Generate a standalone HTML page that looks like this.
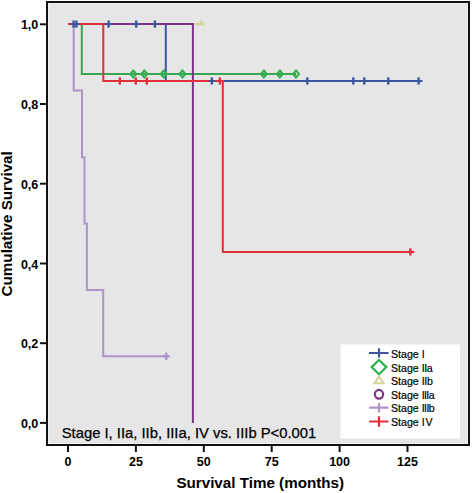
<!DOCTYPE html>
<html><head><meta charset="utf-8"><style>
html,body{margin:0;padding:0;background:#fff;}
body{width:472px;height:493px;overflow:hidden;}
svg{display:block;}
text{font-family:"Liberation Sans",sans-serif;fill:#000;}
.tl{font-size:12.5px;font-weight:bold;}
.ax{font-size:15.2px;font-weight:bold;}
.an{font-size:14.8px;stroke:#000;stroke-width:0.25px;}
.lg{font-size:10.6px;stroke:#000;stroke-width:0.2px;}
</style></head><body>
<svg width="472" height="493" viewBox="0 0 472 493">
<rect x="0" y="0" width="472" height="493" fill="#fff"/>
<rect x="47" y="2" width="422" height="443" fill="#e6e6e6" stroke="#111" stroke-width="2"/>
<rect x="48.5" y="3.5" width="419" height="440" fill="none" stroke="#f1f1f1" stroke-width="1"/>
<path d="M68.0 24.1 L201.0 24.1" fill="none" stroke="#d6d49a" stroke-width="2.0" stroke-linejoin="miter" stroke-linecap="butt"/>
<path d="M68.0 24.1 L73.7 24.1 L73.7 90.5 L82.0 90.5 L82.0 157.2 L84.5 157.2 L84.5 223.5 L86.9 223.5 L86.9 290.0 L103.2 290.0 L103.2 356.3 L169.5 356.3" fill="none" stroke="#ad93ca" stroke-width="2.0" stroke-linejoin="miter" stroke-linecap="butt"/>
<path d="M68.0 24.1 L81.8 24.1 L81.8 74.0 L296.0 74.0" fill="none" stroke="#3aa452" stroke-width="2.0" stroke-linejoin="miter" stroke-linecap="butt"/>
<path d="M68.0 24.1 L165.8 24.1 L165.8 81.0 L422.5 81.0" fill="none" stroke="#3d56a0" stroke-width="2.0" stroke-linejoin="miter" stroke-linecap="butt"/>
<path d="M68.0 24.1 L192.9 24.1 L192.9 422.9" fill="none" stroke="#7e3486" stroke-width="2.0" stroke-linejoin="miter" stroke-linecap="butt"/>
<path d="M68.0 24.1 L103.3 24.1 L103.3 81.0 L222.8 81.0 L222.8 251.9 L414.2 251.9" fill="none" stroke="#e2303a" stroke-width="2.0" stroke-linejoin="miter" stroke-linecap="butt"/>
<path d="M116.6 81.0 H123.0" stroke="#e2303a" stroke-width="2.0" fill="none"/><path d="M119.8 77.4 V84.6" stroke="#e2303a" stroke-width="2.4" fill="none"/>
<path d="M132.6 81.0 H139.0" stroke="#e2303a" stroke-width="2.0" fill="none"/><path d="M135.8 77.4 V84.6" stroke="#e2303a" stroke-width="2.4" fill="none"/>
<path d="M143.6 81.0 H150.0" stroke="#e2303a" stroke-width="2.0" fill="none"/><path d="M146.8 77.4 V84.6" stroke="#e2303a" stroke-width="2.4" fill="none"/>
<path d="M216.7 81.0 H223.1" stroke="#e2303a" stroke-width="2.0" fill="none"/><path d="M219.9 77.4 V84.6" stroke="#e2303a" stroke-width="2.4" fill="none"/>
<path d="M407.2 251.9 H413.6" stroke="#e2303a" stroke-width="2.0" fill="none"/><path d="M410.4 248.3 V255.5" stroke="#e2303a" stroke-width="2.4" fill="none"/>
<path d="M163.0 356.3 H169.4" stroke="#ad93ca" stroke-width="2.0" fill="none"/><path d="M166.2 352.7 V359.9" stroke="#ad93ca" stroke-width="2.4" fill="none"/>
<path d="M70.4 24.1 H76.8" stroke="#3d56a0" stroke-width="2.0" fill="none"/><path d="M73.6 20.5 V27.7" stroke="#3d56a0" stroke-width="2.4" fill="none"/>
<path d="M73.2 24.1 H79.6" stroke="#3d56a0" stroke-width="2.0" fill="none"/><path d="M76.4 20.5 V27.7" stroke="#3d56a0" stroke-width="2.4" fill="none"/>
<path d="M105.4 24.1 H111.8" stroke="#3d56a0" stroke-width="2.0" fill="none"/><path d="M108.6 20.5 V27.7" stroke="#3d56a0" stroke-width="2.4" fill="none"/>
<path d="M133.0 24.1 H139.4" stroke="#3d56a0" stroke-width="2.0" fill="none"/><path d="M136.2 20.5 V27.7" stroke="#3d56a0" stroke-width="2.4" fill="none"/>
<path d="M151.7 24.1 H158.1" stroke="#3d56a0" stroke-width="2.0" fill="none"/><path d="M154.9 20.5 V27.7" stroke="#3d56a0" stroke-width="2.4" fill="none"/>
<path d="M208.7 81.0 H215.1" stroke="#3d56a0" stroke-width="2.0" fill="none"/><path d="M211.9 77.4 V84.6" stroke="#3d56a0" stroke-width="2.4" fill="none"/>
<path d="M304.1 81.0 H310.5" stroke="#3d56a0" stroke-width="2.0" fill="none"/><path d="M307.3 77.4 V84.6" stroke="#3d56a0" stroke-width="2.4" fill="none"/>
<path d="M350.1 81.0 H356.5" stroke="#3d56a0" stroke-width="2.0" fill="none"/><path d="M353.3 77.4 V84.6" stroke="#3d56a0" stroke-width="2.4" fill="none"/>
<path d="M361.1 81.0 H367.5" stroke="#3d56a0" stroke-width="2.0" fill="none"/><path d="M364.3 77.4 V84.6" stroke="#3d56a0" stroke-width="2.4" fill="none"/>
<path d="M385.1 81.0 H391.5" stroke="#3d56a0" stroke-width="2.0" fill="none"/><path d="M388.3 77.4 V84.6" stroke="#3d56a0" stroke-width="2.4" fill="none"/>
<path d="M415.4 81.0 H421.8" stroke="#3d56a0" stroke-width="2.0" fill="none"/><path d="M418.6 77.4 V84.6" stroke="#3d56a0" stroke-width="2.4" fill="none"/>
<path d="M133.3 70.5 L136.3 74.0 L133.3 77.5 L130.3 74.0 Z" stroke="#2fb04a" stroke-width="2.0" fill="none"/>
<path d="M144.3 70.5 L147.3 74.0 L144.3 77.5 L141.3 74.0 Z" stroke="#2fb04a" stroke-width="2.0" fill="none"/>
<path d="M163.7 70.5 L166.7 74.0 L163.7 77.5 L160.7 74.0 Z" stroke="#2fb04a" stroke-width="2.0" fill="none"/>
<path d="M182.4 70.5 L185.4 74.0 L182.4 77.5 L179.4 74.0 Z" stroke="#2fb04a" stroke-width="2.0" fill="none"/>
<path d="M263.9 70.5 L266.9 74.0 L263.9 77.5 L260.9 74.0 Z" stroke="#2fb04a" stroke-width="2.0" fill="none"/>
<path d="M279.9 70.5 L282.9 74.0 L279.9 77.5 L276.9 74.0 Z" stroke="#2fb04a" stroke-width="2.0" fill="none"/>
<path d="M296.0 70.5 L299.0 74.0 L296.0 77.5 L293.0 74.0 Z" stroke="#2fb04a" stroke-width="2.0" fill="none"/>
<path d="M201.2 19.4 L205.6 25.4 L196.8 25.4 Z" fill="#d6d49a"/>
<rect x="340.5" y="344.5" width="119.5" height="94" fill="#fff"/>
<path d="M369 353 H388.6 M379 348.2 V357.6" stroke="#3d56a0" stroke-width="2.2" fill="none"/>
<path d="M379 360 L386.4 367.1 L379 374.2 L371.6 367.1 Z" stroke="#2fb04a" stroke-width="2.2" fill="none"/>
<path d="M379 376.6 L383.6 383.2 L374.4 383.2 Z" stroke="#d6d49a" stroke-width="2" fill="none"/>
<ellipse cx="379" cy="394.3" rx="4.1" ry="4.4" stroke="#7e3486" stroke-width="2.2" fill="none"/>
<path d="M369.2 407.7 H388.4 M379 403 V412.6" stroke="#ad93ca" stroke-width="2.2" fill="none"/>
<path d="M369.2 421.5 H388.4 M379 416.3 V426.7" stroke="#e2303a" stroke-width="2.2" fill="none"/>
<text x="391" y="357.9" class="lg">Stage <tspan letter-spacing="0">I</tspan></text>
<text x="391" y="372.2" class="lg">Stage <tspan letter-spacing="-0.45">IIa</tspan></text>
<text x="391" y="385.4" class="lg">Stage <tspan letter-spacing="-0.3">IIb</tspan></text>
<text x="391" y="398.6" class="lg">Stage <tspan letter-spacing="-0.6">IIIa</tspan></text>
<text x="391" y="412.4" class="lg">Stage <tspan letter-spacing="-0.55">IIIb</tspan></text>
<text x="391" y="425.6" class="lg">Stage <tspan letter-spacing="0.9">IV</tspan></text>
<text x="61.7" y="437.6" class="an">Stage I, IIa, IIb, IIIa, IV vs. IIIb P&lt;0.001</text>
<path d="M40 24.3 H46" stroke="#111" stroke-width="2"/>
<text x="38.3" y="29.4" text-anchor="end" class="tl">1,0</text>
<path d="M40 104.0 H46" stroke="#111" stroke-width="2"/>
<text x="38.3" y="109.1" text-anchor="end" class="tl">0,8</text>
<path d="M40 183.7 H46" stroke="#111" stroke-width="2"/>
<text x="38.3" y="188.8" text-anchor="end" class="tl">0,6</text>
<path d="M40 263.5 H46" stroke="#111" stroke-width="2"/>
<text x="38.3" y="268.6" text-anchor="end" class="tl">0,4</text>
<path d="M40 343.2 H46" stroke="#111" stroke-width="2"/>
<text x="38.3" y="348.3" text-anchor="end" class="tl">0,2</text>
<path d="M40 422.9 H46" stroke="#111" stroke-width="2"/>
<text x="38.3" y="428.0" text-anchor="end" class="tl">0,0</text>
<path d="M68.0 446 V452" stroke="#111" stroke-width="2"/>
<text x="68.0" y="466.4" text-anchor="middle" class="tl">0</text>
<path d="M135.9 446 V452" stroke="#111" stroke-width="2"/>
<text x="135.9" y="466.4" text-anchor="middle" class="tl">25</text>
<path d="M203.8 446 V452" stroke="#111" stroke-width="2"/>
<text x="203.8" y="466.4" text-anchor="middle" class="tl">50</text>
<path d="M271.7 446 V452" stroke="#111" stroke-width="2"/>
<text x="271.7" y="466.4" text-anchor="middle" class="tl">75</text>
<path d="M339.6 446 V452" stroke="#111" stroke-width="2"/>
<text x="339.6" y="466.4" text-anchor="middle" class="tl">100</text>
<path d="M407.5 446 V452" stroke="#111" stroke-width="2"/>
<text x="407.5" y="466.4" text-anchor="middle" class="tl">125</text>
<text x="176.4" y="487.9" class="ax">Survival Time (months)</text>
<text transform="translate(12.3 296.4) rotate(-90)" x="0" y="0" class="ax">Cumulative Survival</text>
</svg>
</body></html>
